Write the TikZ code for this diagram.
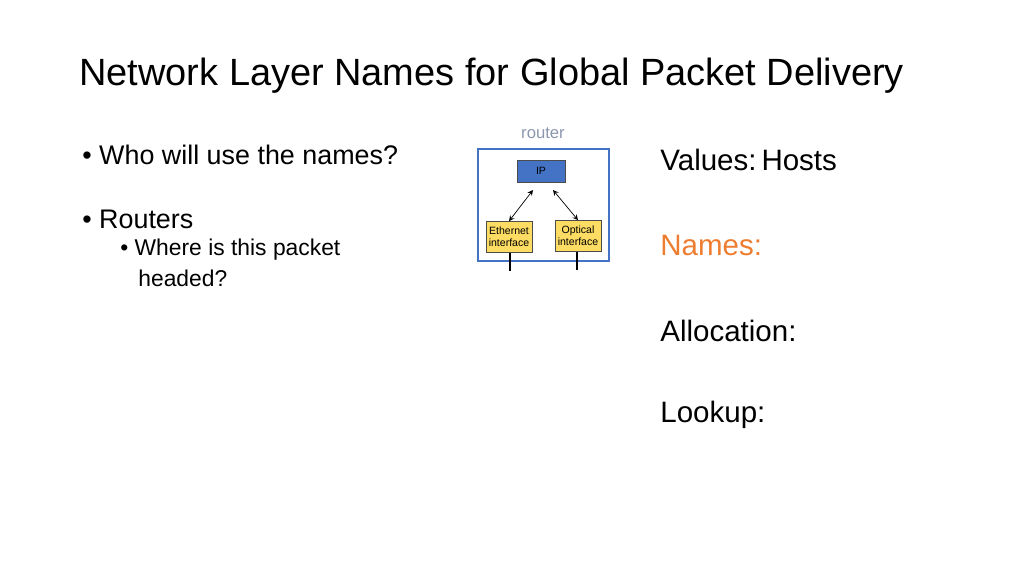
\documentclass[tikz,border=0pt]{standalone}
\usepackage{fontspec}
\setmainfont{Liberation Sans}
\begin{document}
\begin{tikzpicture}[x=0.02cm,y=-0.02cm,
 txt/.style={anchor=west,inner sep=0},
 ybox/.style={draw=black!70,fill=yellow!60!orange!60,font=\fontsize{6}{7}\selectfont,align=center,inner sep=0,minimum width=46*0.02cm,minimum height=31*0.02cm},
 arr/.style={<->,>=stealth,thin}]
\useasboundingbox (0,0) rectangle (1024,576);
\node[txt,font=\fontsize{21.6}{24}\selectfont] (title) at (79,76) {Network Layer Names for Global Packet Delivery};
\node[txt,font=\fontsize{15.3}{16}\selectfont] (b1) at (82,155) {\textbullet\ Who will use the names?};
\node[txt,font=\fontsize{15.3}{16}\selectfont] (b2) at (82,219) {\textbullet\ Routers};
\node[txt,font=\fontsize{13}{15.9}\selectfont] (b3) at (120,250) {\textbullet\ Where is this packet};
\node[txt,font=\fontsize{13}{15.9}\selectfont] (b4) at (138,278) {headed?};
\node[txt,font=\fontsize{16.8}{18}\selectfont] (v) at (660,160) {Values:\,Hosts};
\node[txt,font=\fontsize{16.8}{18}\selectfont,text={rgb,255:red,237;green,125;blue,49}] (n) at (660,245) {Names:};
\node[txt,font=\fontsize{16.8}{18}\selectfont] (a) at (660,331) {Allocation:};
\node[txt,font=\fontsize{16.8}{18}\selectfont] (l) at (660,415) {Lookup:};
\node[font=\fontsize{9.5}{10}\selectfont,text={rgb,255:red,140;green,150;blue,175}] (rl) at (543,133) {router};
\draw[draw={rgb,255:red,68;green,114;blue,196},line width=1.2pt] (478,149) rectangle (609,261);
\node[draw=black!70,fill={rgb,255:red,68;green,114;blue,196},minimum width=48*0.02cm,minimum height=22*0.02cm,inner sep=0,font=\fontsize{6}{7}\selectfont] (ip) at (541,171) {IP};
\node[ybox] (eth) at (509,237) {Ethernet\\interface};
\node[ybox] (opt) at (578,236) {Optical\\interface};
\coordinate (ipl) at (533,190);
\coordinate (ipr) at (553,190);
\draw[arr] (eth.north) -- (ipl);
\draw[arr] (opt.north) -- (ipr);
\coordinate (e0) at (510,253);
\coordinate (e1) at (510,271);
\coordinate (o0) at (577,252);
\coordinate (o1) at (577,270);
\draw[line width=1pt] (e0) -- (e1);
\draw[line width=1pt] (o0) -- (o1);
\end{tikzpicture}
\end{document}
